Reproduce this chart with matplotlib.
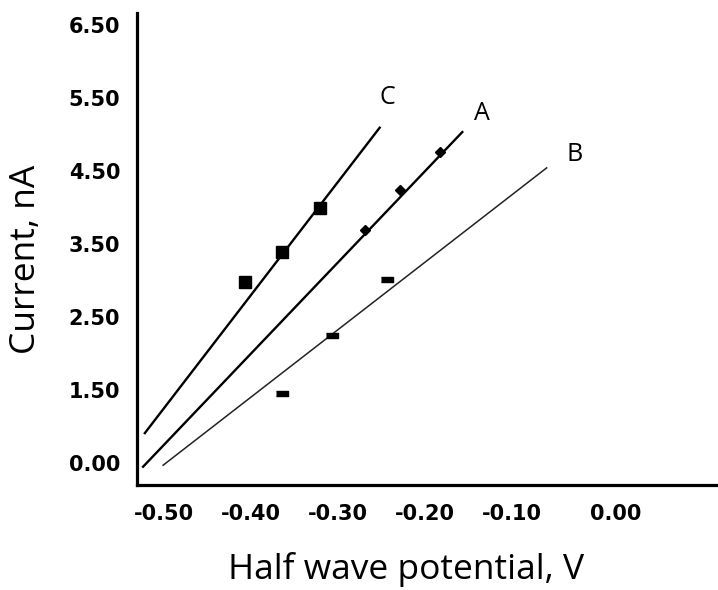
import matplotlib
matplotlib.use("Agg")
import matplotlib.pyplot as plt
import matplotlib.transforms as mtransforms

# fitted lines (start / end points), y in label units
line_c_x = [-0.522, -0.252]
line_c_y = [0.91, 5.09]
line_a_x = [-0.524, -0.157]
line_a_y = [0.45, 5.03]
line_b_x = [-0.501, -0.060]
line_b_y = [0.47, 4.54]

# measured points
pts_c_x = [-0.407, -0.364, -0.321]
pts_c_y = [2.98, 3.39, 3.99]
pts_a_x = [-0.269, -0.229, -0.183]
pts_a_y = [3.69, 4.24, 4.76]
pts_b_x = [-0.364, -0.307, -0.244]
pts_b_y = [1.46, 2.25, 3.02]

x_ticks = [-0.50, -0.40, -0.30, -0.20, -0.10, 0.00]
x_tick_labels = ["-0.50", "-0.40", "-0.30", "-0.20", "-0.10", "0.00"]
y_ticks = [0.5, 1.5, 2.5, 3.5, 4.5, 5.5, 6.5]
y_tick_labels = ["0.00", "1.50", "2.50", "3.50", "4.50", "5.50", "6.50"]

series_labels = ["C", "A", "B"]
label_x = [-0.243, -0.134, -0.028]
label_y = [5.51, 5.29, 4.72]

fig = plt.figure(figsize=(7.18, 5.90), dpi=100)
ax = fig.add_axes([0.1908, 0.178, 0.8092, 0.80])

ax.plot(line_c_x, line_c_y, color="black", lw=1.7)
ax.plot(line_a_x, line_a_y, color="black", lw=1.7)
ax.plot(line_b_x, line_b_y, color="#222222", lw=1.1)

ax.plot(pts_c_x, pts_c_y, ls="none", marker="s", ms=8.5, color="black")
ax.plot(pts_a_x, pts_a_y, ls="none", marker="D", ms=5.5, color="black")
dash = [(-1, -0.45), (1, -0.45), (1, 0.45), (-1, 0.45)]
ax.plot(pts_b_x, pts_b_y, ls="none", marker=dash, ms=8, color="black")

for lab, lx, ly in zip(series_labels, label_x, label_y):
    ax.text(lx, ly, lab, fontsize=18, family="Open Sans", ha="center", va="center")

ax.set_xlim(-0.531, 0.137)
ax.set_ylim(0.2, 6.66)
ax.set_xticks(x_ticks, x_tick_labels, fontsize=15, fontweight="bold")
ax.set_yticks(y_ticks, y_tick_labels, fontsize=15, fontweight="bold")
ax.tick_params(length=0, pad=12)
ax.tick_params(axis="x", pad=14)

# last x label sits a bit further right in the original
last = ax.get_xticklabels()[-1]
last.set_transform(last.get_transform() + mtransforms.ScaledTranslation(0.17, 0, fig.dpi_scale_trans))

for side in ["top", "right"]:
    ax.spines[side].set_visible(False)
for side in ["left", "bottom"]:
    ax.spines[side].set_linewidth(2.3)

fig.text(0.565, 0.035, "Half wave potential, V", fontsize=25.5, family="Open Sans", ha="center", va="center")
fig.text(0.036, 0.56, "Current, nA", fontsize=25.5, family="Open Sans", rotation=90, ha="center", va="center")

fig.savefig("out.png", dpi=100)
